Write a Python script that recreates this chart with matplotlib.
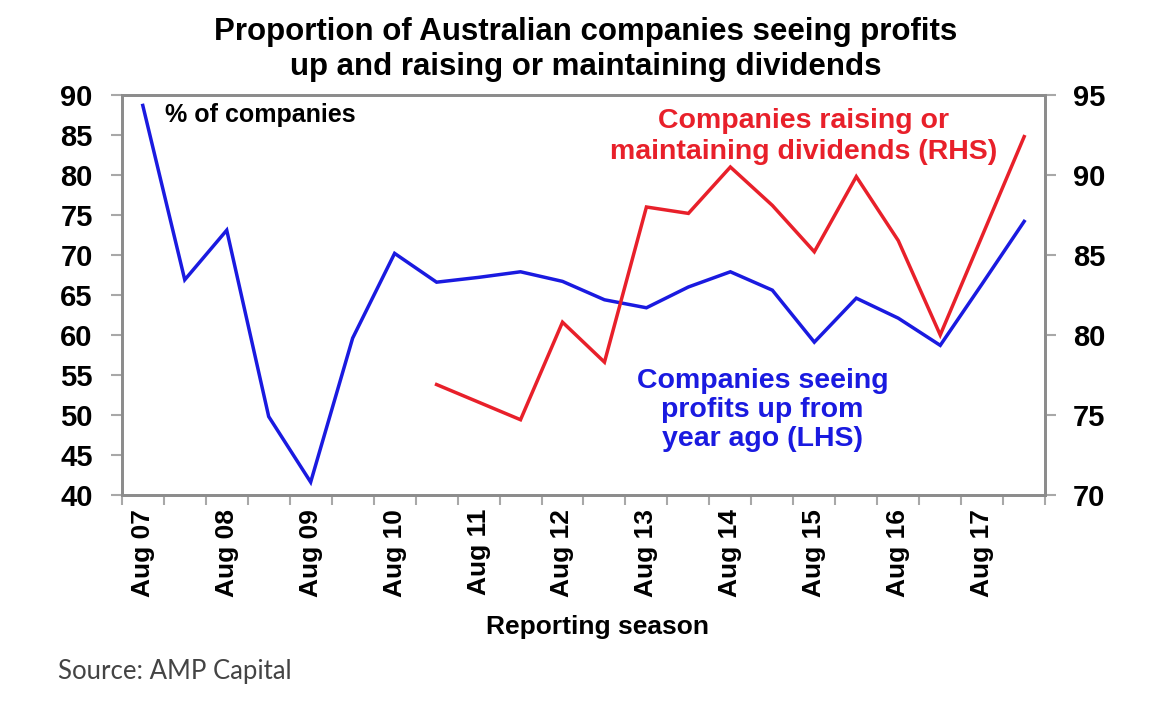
import matplotlib.pyplot as plt
import numpy as np

plt.rcParams['font.family'] = ['Liberation Sans', 'DejaVu Sans']

# reporting seasons, half-yearly from Aug 07 to Feb 18
seasons = ['Aug 07', 'Feb 08', 'Aug 08', 'Feb 09', 'Aug 09', 'Feb 10', 'Aug 10', 'Feb 11',
           'Aug 11', 'Feb 12', 'Aug 12', 'Feb 13', 'Aug 13', 'Feb 14', 'Aug 14', 'Feb 15',
           'Aug 15', 'Feb 16', 'Aug 16', 'Feb 17', 'Aug 17', 'Feb 18']

# % of companies seeing profits up from a year ago (LHS)
profits_up = [88.7, 66.9, 73.1, 49.8, 41.6, 59.6, 70.2, 66.6,
              67.2, 67.9, 66.7, 64.4, 63.4, 66.0, 67.9, 65.6,
              59.1, 64.6, 62.1, 58.7, 66.4, 74.2]

# % of companies raising or maintaining dividends (RHS)
divs_up = [None, None, None, None, None, None, None, 76.9,
           75.8, 74.7, 80.8, 78.3, 88.0, 87.6, 90.5, 88.1,
           85.2, 89.9, 85.9, 80.0, 86.2, 92.4]

blue = '#1a1ae0'
red = '#e8202a'
grey = '#8c8c8c'
tick_grey = '#a8a8a8'

x = np.arange(len(seasons))
divs = np.array([np.nan if v is None else v for v in divs_up])

fig = plt.figure(figsize=(11.6, 7.04), dpi=100)
ax = fig.add_axes([0.105, 0.297, 0.796, 0.568])
ax2 = ax.twinx()

ax.plot(x, profits_up, color=blue, linewidth=2.5, solid_joinstyle='miter')
ax2.plot(x, divs, color=red, linewidth=2.5, solid_joinstyle='miter')

ax.set_xlim(-0.5, len(seasons) - 0.5)
ax.set_ylim(40, 90)
ax2.set_ylim(70, 95)
ax.set_yticks(np.arange(40, 91, 5))
ax2.set_yticks(np.arange(70, 96, 5))

# category boundaries carry the tick marks, labels sit on the Aug seasons
ax.set_xticks(np.arange(-0.5, len(seasons)), labels=[])
ax.set_xticks(x[::2], labels=seasons[::2], minor=True)
ax.tick_params(axis='x', which='minor', length=0, pad=10, rotation=90,
               labelsize=19)
for lab in ax.get_xticklabels(minor=True):
    lab.set_fontweight('bold')
ax.tick_params(axis='x', which='major', length=7, width=1.5, color=tick_grey)

ax.tick_params(axis='y', length=8, width=1.5, color=tick_grey, pad=13, labelsize=21)
ax2.tick_params(axis='y', length=8, width=1.5, color=tick_grey, pad=12, labelsize=21)
for a in (ax, ax2):
    for lab in a.get_yticklabels():
        lab.set_fontweight('bold')
    for s in a.spines.values():
        s.set_color(grey)
        s.set_linewidth(2)

ax.text(0.047, 0.95, '% of companies', transform=ax.transAxes, fontsize=18,
        fontweight='bold', va='center', ha='left')
ax.text(0.738, 0.897, 'Companies raising or\nmaintaining dividends (RHS)',
        transform=ax.transAxes, fontsize=20.5, fontweight='bold', color=red,
        ha='center', va='center', linespacing=1.25)
ax.text(0.694, 0.2125, 'Companies seeing\nprofits up from\nyear ago (LHS)',
        transform=ax.transAxes, fontsize=20.5, fontweight='bold', color=blue,
        ha='center', va='center', linespacing=1.14)

fig.text(0.505, 0.93, 'Proportion of Australian companies seeing profits\nup and raising or maintaining dividends',
         fontsize=22.5, fontweight='bold', ha='center', va='center', linespacing=1.24)
fig.text(0.515, 0.109, 'Reporting season', fontsize=19, fontweight='bold',
         ha='center', va='center')
fig.text(0.05, 0.0455, 'Source: AMP Capital', fontsize=18.5, family='Lato',
         color='#444444', ha='left', va='center')

plt.savefig('out.png', dpi=100)
